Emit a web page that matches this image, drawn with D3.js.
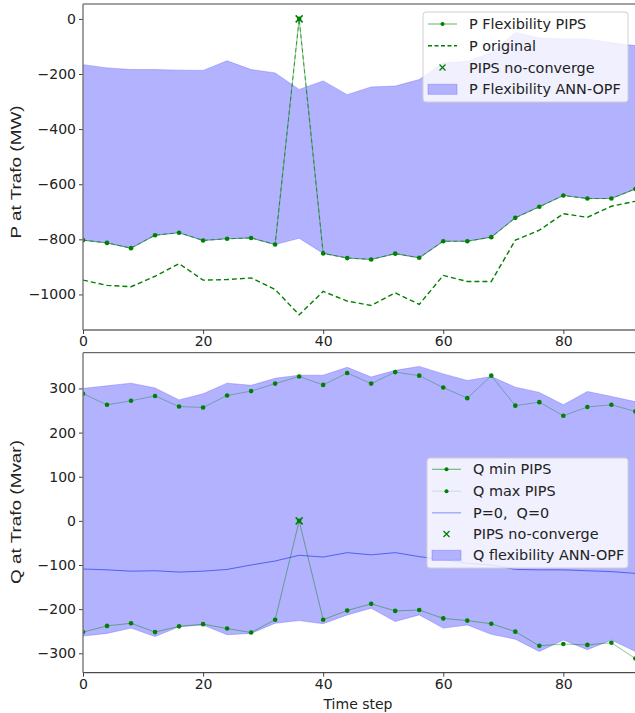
<!DOCTYPE html>
<html>
<head>
<meta charset="utf-8">
<script src="https://cdn.jsdelivr.net/npm/d3@7"></script>
<style>
  body { margin: 0; background: #fff; }
  svg text { font-family: "DejaVu Sans", sans-serif; }
</style>
</head>
<body>
<svg id="chart" width="635" height="713"></svg>
<script>
// ── data ───────────────────────────────────────────────────────────
const timeSteps = [0, 4, 8, 12, 16, 20, 24, 28, 32, 36, 40, 44, 48, 52, 56, 60, 64, 68, 72, 76, 80, 84, 88, 92];

// top panel (MW)
const pAnnUpper = [-166, -178, -184, -184, -186, -187, -152, -184, -196, -256, -225, -275, -247, -244, -220, -160, -154, -123, -49, -69, -73, -73, -87, -97];
const pAnnLower = [-803, -813, -832, -785, -776, -804, -798, -795, -819, -796, -851, -868, -873, -852, -867, -807, -807, -792, -722, -682, -641, -652, -652, -617];
const pPips     = [-803, -813, -832, -785, -776, -804, -798, -795, -819, 0, -851, -868, -873, -852, -867, -807, -807, -792, -722, -682, -641, -652, -652, -617];
const pOriginal = [-948, -967, -972, -934, -888, -948, -946, -940, -982, -1074, -989, -1024, -1040, -994, -1036, -931, -953, -953, -803, -767, -707, -720, -680, -662];
const pNoConverge = [{ t: 36, v: 0 }];

// bottom panel (Mvar)
const qAnnUpper = [300, 306, 312, 301, 274, 288, 312, 307, 323, 330, 330, 348, 326, 341, 350, 333, 318, 327, 303, 291, 263, 293, 282, 270];
const qAnnLower = [-261, -255, -243, -262, -240, -236, -258, -255, -232, -226, -233, -213, -198, -228, -213, -243, -236, -257, -268, -296, -270, -292, -270, -296];
const qMaxPips  = [288, 263, 272, 283, 259, 257, 284, 294, 311, 327, 308, 335, 311, 337, 329, 302, 278, 329, 261, 269, 238, 258, 263, 248];
const qMinPips  = [-252, -238, -232, -252, -239, -234, -244, -253, -224, 0, -224, -203, -188, -204, -202, -221, -226, -233, -251, -283, -279, -281, -276, -312];
const qZero     = [-109, -111, -114, -113, -116, -114, -110, -100, -91, -78, -82, -72, -77, -72, -81, -88, -96, -100, -110, -111, -111, -113, -115, -119];
const qNoConverge = [{ t: 36, v: 0 }];

const pTicks = [0, -200, -400, -600, -800, -1000];
const qTicks = [300, 200, 100, 0, -100, -200, -300];
const xTicks = [0, 20, 40, 60, 80];

const fillColor = 'rgb(178,178,255)';
const green = '#008000';

const svg = d3.select('#chart');

// shared x scale (the figure is cut off on the right)
const x = d3.scaleLinear().domain([0, 92]).range([83, 635.4]);

function drawPanel({ id, top, bottom, yDomain, yTicks, yLabel, labelY, xLabel }) {
    const y = d3.scaleLinear().domain(yDomain).range([bottom, top]);
    const g = svg.append('g').attr('class', 'panel-' + id);

    g.append('clipPath').attr('id', 'clip-' + id)
        .append('rect')
        .attr('x', 83).attr('y', top)
        .attr('width', 560).attr('height', bottom - top);

    const plot = g.append('g').attr('clip-path', `url(#clip-${id})`);

    // axes
    const yAxis = g.append('g')
        .attr('transform', 'translate(83,0)')
        .call(d3.axisLeft(y).tickValues(yTicks).tickFormat(d3.format('d'))
            .tickSize(4).tickPadding(3).tickSizeOuter(0));
    const xAxis = g.append('g')
        .attr('transform', `translate(0,${bottom})`)
        .call(d3.axisBottom(x).tickValues(xTicks).tickSize(4).tickPadding(2).tickSizeOuter(0));

    [yAxis, xAxis].forEach(a => {
        a.select('.domain').remove();
        a.selectAll('text').attr('font-size', 14).attr('fill', '#222')
            .style('font-family', '"DejaVu Sans", sans-serif');
        a.selectAll('line').attr('stroke', '#444');
    });

    // spines
    g.append('line').attr('x1', 83).attr('x2', 635).attr('y1', top).attr('y2', top)
        .attr('stroke', '#444').attr('stroke-width', 1);
    g.append('line').attr('x1', 83).attr('x2', 635).attr('y1', bottom).attr('y2', bottom)
        .attr('stroke', '#222').attr('stroke-width', 1);
    g.append('line').attr('x1', 83).attr('x2', 83).attr('y1', top).attr('y2', bottom)
        .attr('stroke', '#777').attr('stroke-width', 1.4);

    // y label is drawn stretched along its length, like in the picture
    const yl = g.append('text')
        .attr('transform', `translate(17,${labelY}) rotate(-90)`)
        .attr('text-anchor', 'middle')
        .attr('dominant-baseline', 'middle')
        .attr('font-size', 15)
        .attr('fill', '#222')
        .style('font-family', '"Liberation Sans", Arial, sans-serif')
        .text(yLabel);
    const natural = yl.node().getComputedTextLength();
    yl.attr('textLength', natural * 1.26).attr('lengthAdjust', 'spacingAndGlyphs');

    if (xLabel) {
        g.append('text')
            .attr('x', 358).attr('y', bottom + 36)
            .attr('text-anchor', 'middle')
            .attr('font-size', 14)
            .attr('fill', '#222')
            .text(xLabel);
    }

    return { y, plot, g };
}

function band(plot, y, lower, upper) {
    const area = d3.area()
        .x((d, i) => x(timeSteps[i]))
        .y0((d, i) => y(lower[i]))
        .y1((d, i) => y(upper[i]));
    plot.append('path')
        .datum(upper)
        .attr('d', area)
        .attr('fill', fillColor)
        .attr('stroke', 'rgba(90,90,255,0.35)')
        .attr('stroke-width', 1);
}

function line(plot, y, values, style) {
    const gen = d3.line().x((d, i) => x(timeSteps[i])).y(d => y(d));
    const p = plot.append('path')
        .datum(values)
        .attr('d', gen)
        .attr('fill', 'none')
        .attr('stroke', style.color)
        .attr('stroke-width', style.width || 1)
        .attr('stroke-opacity', style.opacity == null ? 1 : style.opacity);
    if (style.dash) p.attr('stroke-dasharray', style.dash);
    return p;
}

function dots(plot, y, values) {
    plot.selectAll(null)
        .data(values)
        .enter()
        .append('circle')
        .attr('cx', (d, i) => x(timeSteps[i]))
        .attr('cy', d => y(d))
        .attr('r', 2.3)
        .attr('fill', green);
}

function crosses(plot, y, pts) {
    const s = 3.5;
    pts.forEach(p => {
        const cx = x(p.t), cy = y(p.v);
        plot.append('path')
            .attr('d', `M${cx - s},${cy - s}L${cx + s},${cy + s}M${cx - s},${cy + s}L${cx + s},${cy - s}`)
            .attr('stroke', green).attr('stroke-width', 1.5);
    });
}

function legend(g, { x0, y0, w, h, rowY, items }) {
    const lg = g.append('g');
    lg.append('rect')
        .attr('x', x0).attr('y', y0).attr('width', w).attr('height', h)
        .attr('rx', 3)
        .attr('fill', 'rgba(255,255,255,0.8)')
        .attr('stroke', '#d0d0d0');
    items.forEach((it, i) => {
        const cy = rowY[i];
        const hx0 = x0 + 5, hx1 = x0 + 34;
        if (it.type === 'line') {
            const l = lg.append('line')
                .attr('x1', hx0).attr('x2', hx1).attr('y1', cy).attr('y2', cy)
                .attr('stroke', it.color).attr('stroke-width', it.width || 1.2)
                .attr('stroke-opacity', it.opacity == null ? 1 : it.opacity);
            if (it.dash) l.attr('stroke-dasharray', it.dash);
            if (it.dot) lg.append('circle').attr('cx', (hx0 + hx1) / 2).attr('cy', cy).attr('r', 2).attr('fill', green);
        } else if (it.type === 'cross') {
            const cx = (hx0 + hx1) / 2, s = 3;
            lg.append('path')
                .attr('d', `M${cx - s},${cy - s}L${cx + s},${cy + s}M${cx - s},${cy + s}L${cx + s},${cy - s}`)
                .attr('stroke', green).attr('stroke-width', 1.3);
        } else {
            lg.append('rect')
                .attr('x', hx0).attr('y', cy - 5).attr('width', hx1 - hx0).attr('height', 10)
                .attr('fill', fillColor).attr('stroke', 'rgba(90,90,255,0.35)');
        }
        lg.append('text')
            .attr('x', x0 + 46).attr('y', cy)
            .attr('dominant-baseline', 'central')
            .attr('font-size', 14.4)
            .attr('fill', '#222')
            .style('white-space', 'pre')
            .text(it.label);
    });
}

// 1) top panel: active power
const pPanel = drawPanel({
    id: 'p', top: 4, bottom: 330, yDomain: [-1129, 54], yTicks: pTicks,
    yLabel: 'P at Trafo (MW)', labelY: 172
});
band(pPanel.plot, pPanel.y, pAnnLower, pAnnUpper);
line(pPanel.plot, pPanel.y, pPips, { color: green, width: 1.1, opacity: 0.4 });
line(pPanel.plot, pPanel.y, pPips, { color: green, width: 0.9, dash: '4,3', opacity: 0.75 });
dots(pPanel.plot, pPanel.y, pPips);
line(pPanel.plot, pPanel.y, pOriginal, { color: green, width: 1.4, dash: '5,3' });
crosses(pPanel.plot, pPanel.y, pNoConverge);
legend(pPanel.g, {
    x0: 423, y0: 12, w: 205, h: 90, rowY: [24, 45.7, 67.5, 89.3],
    items: [
        { type: 'line', label: 'P Flexibility PIPS', color: green, opacity: 0.5, dot: true },
        { type: 'line', label: 'P original', color: green, dash: '4,2.5', width: 1.4 },
        { type: 'cross', label: 'PIPS no-converge' },
        { type: 'patch', label: 'P Flexibility ANN-OPF' }
    ]
});

// 2) bottom panel: reactive power
const qPanel = drawPanel({
    id: 'q', top: 352.7, bottom: 672.7, yDomain: [-344, 381], yTicks: qTicks,
    yLabel: 'Q at Trafo (Mvar)', labelY: 512
});
band(qPanel.plot, qPanel.y, qAnnLower, qAnnUpper);
line(qPanel.plot, qPanel.y, qZero, { color: '#3344ee', width: 1, opacity: 0.75 });
line(qPanel.plot, qPanel.y, qMinPips, { color: green, width: 1, opacity: 0.45 });
line(qPanel.plot, qPanel.y, qMaxPips, { color: '#2f7f4f', width: 1, opacity: 0.45 });
dots(qPanel.plot, qPanel.y, qMinPips);
dots(qPanel.plot, qPanel.y, qMaxPips);
crosses(qPanel.plot, qPanel.y, qNoConverge);
legend(qPanel.g, {
    x0: 427, y0: 458, w: 201, h: 110, rowY: [469.3, 491.2, 512.8, 534, 555.3],
    items: [
        { type: 'line', label: 'Q min PIPS', color: green, opacity: 0.5, dot: true },
        { type: 'line', label: 'Q max PIPS', color: '#88b8a0', opacity: 0.3, dot: true },
        { type: 'line', label: 'P=0,  Q=0', color: '#5566ff', opacity: 0.6 },
        { type: 'cross', label: 'PIPS no-converge' },
        { type: 'patch', label: 'Q flexibility ANN-OPF' }
    ]
});

// x-axis title under the bottom panel
qPanel.g.append('text')
    .attr('x', 358).attr('y', 672.7 + 36)
    .attr('text-anchor', 'middle')
    .attr('font-size', 14)
    .attr('fill', '#222')
    .text('Time step');
</script>
</body>
</html>
